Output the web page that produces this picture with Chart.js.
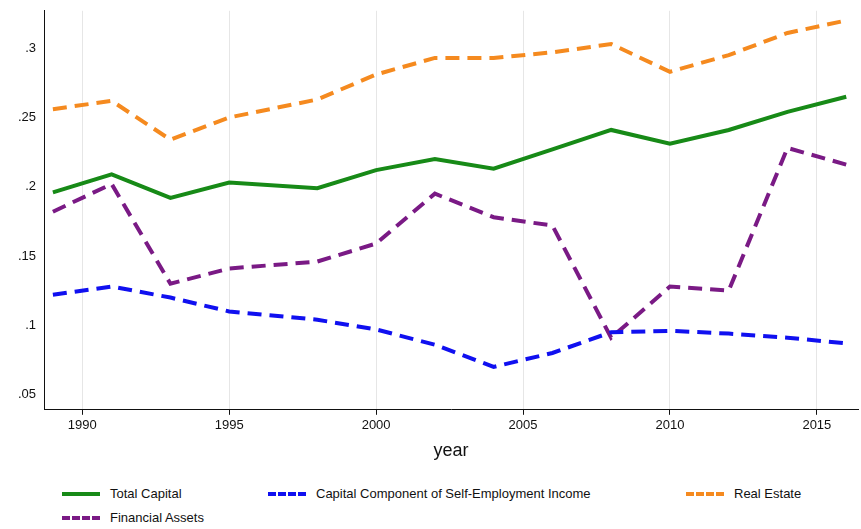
<!DOCTYPE html>
<html><head><meta charset="utf-8">
<script src="https://cdn.jsdelivr.net/npm/chart.js@4"></script>
<style>
body{margin:0;background:#fff;font-family:"Liberation Sans",Arial,sans-serif;}
#wrap{position:relative;width:861px;height:466px;}
.lg{position:absolute;font-size:13px;color:#111;display:flex;align-items:center;}
.sw{width:38px;height:0;margin-right:10px;border-top:4px solid;}
</style></head><body>
<div id="wrap"><canvas id="c"></canvas></div>
<div class="lg" style="left:62px;top:486px"><span class="sw" style="border-color:#178a17"></span>Total Capital</div>
<div class="lg" style="left:268px;top:486px"><span class="sw" style="border-top-style:dashed;border-color:#1010f0"></span>Capital Component of Self-Employment Income</div>
<div class="lg" style="left:686px;top:486px"><span class="sw" style="border-top-style:dashed;border-color:#f58a1f"></span>Real Estate</div>
<div class="lg" style="left:62px;top:510px"><span class="sw" style="border-top-style:dashed;border-color:#7a1a85"></span>Financial Assets</div>
<script>
const years = [1989, 1991, 1993, 1995, 1998, 2000, 2002, 2004, 2006, 2008, 2010, 2012, 2014, 2016];
const totalCapital = [.196, .209, .192, .203, .199, .212, .220, .213, .227, .241, .231, .241, .254, .265];
const selfEmployment = [.122, .128, .120, .110, .104, .097, .086, .070, .080, .095, .096, .094, .091, .087];
const realEstate = [.256, .262, .234, .250, .263, .281, .293, .293, .297, .303, .283, .295, .311, .320];
const financialAssets = [.182, .202, .130, .141, .146, .159, .195, .178, .172, .091, .128, .125, .228, .216];
const xTicks = [1990, 1995, 2000, 2005, 2010, 2015];
const yTicks = [.05, .1, .15, .2, .25, .3];

function pts(v){ return years.map((y,i)=>({x:y,y:v[i]})); }
function ds(v,color,dash){ return {data:pts(v),borderColor:color,borderWidth:4,borderDash:dash,pointRadius:0,tension:0,fill:false}; }
function fmt(v){ return String(+v.toFixed(2)).replace(/^0/,''); }

new Chart(document.getElementById('c'),{
  type:'line',
  data:{datasets:[
    ds(totalCapital,'#178a17',[]),
    ds(selfEmployment,'#1010f0',[14,8]),
    ds(realEstate,'#f58a1f',[14,8]),
    ds(financialAssets,'#7a1a85',[14,8])
  ]},
  options:{responsive:true,maintainAspectRatio:false,animation:false,
    layout:{padding:{top:10,right:3,left:15}},
    plugins:{legend:{display:false},tooltip:{enabled:false}},
    scales:{
      x:{type:'linear',min:1988.7,max:2016.4,
        afterBuildTicks:a=>{a.ticks=xTicks.map(v=>({value:v}));},
        ticks:{color:'#111',font:{size:13},callback:v=>v},
        grid:{color:'#e6e6e6',drawTicks:true,tickColor:'#111',tickLength:5},
        border:{color:'#111'},
        title:{display:true,text:'year',color:'#111',font:{size:18}}},
      y:{min:.039,max:.327,
        afterBuildTicks:a=>{a.ticks=yTicks.map(v=>({value:v}));},
        ticks:{color:'#111',font:{size:13},callback:v=>fmt(v)},
        grid:{display:false,drawTicks:true,tickLength:5},
        border:{color:'#111'}}
    }}
});
</script></body></html>
